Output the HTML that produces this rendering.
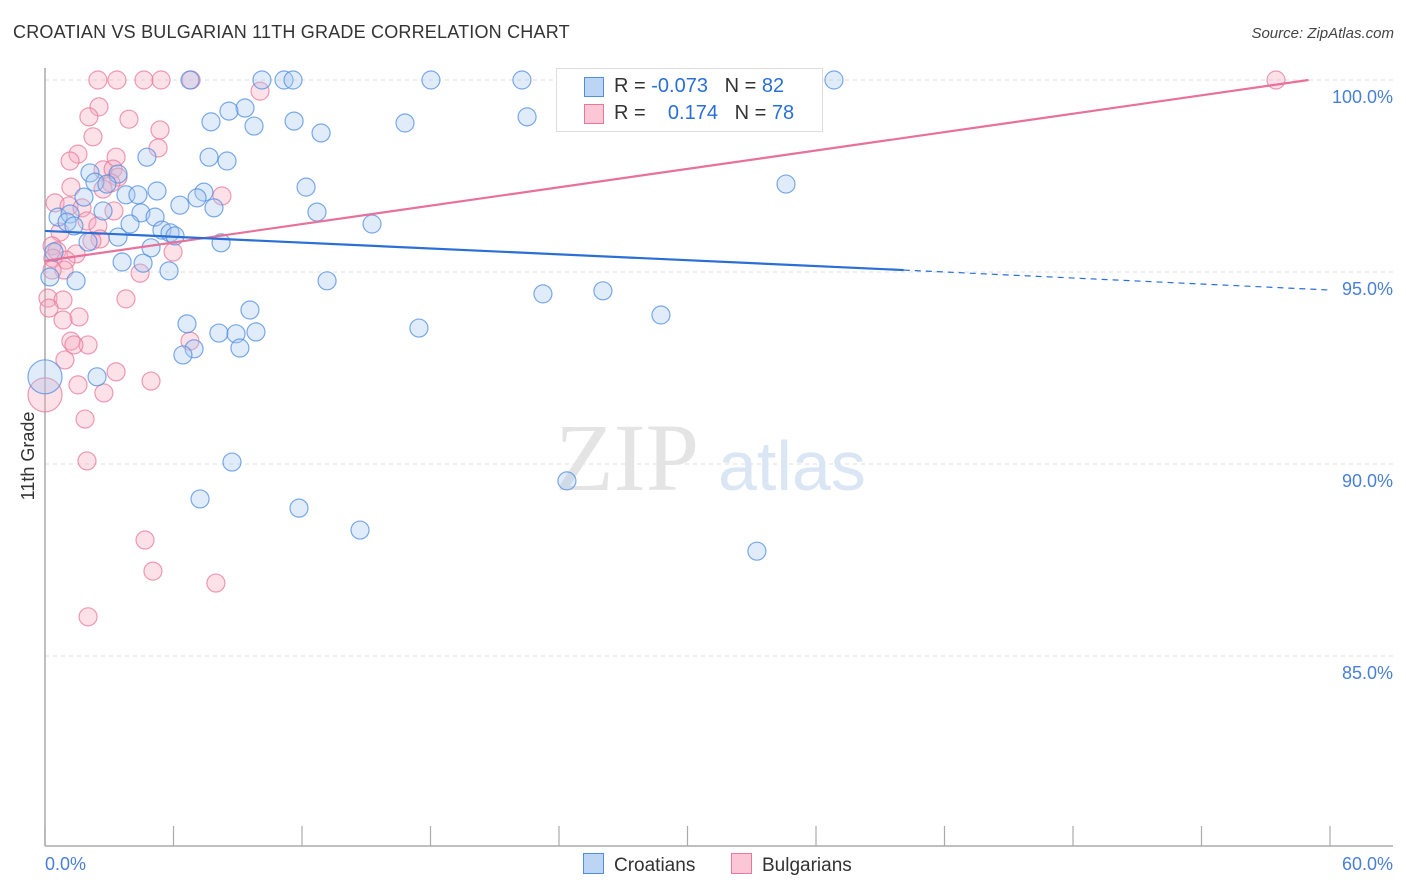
<!DOCTYPE html>
<html><head><meta charset="utf-8"><style>
body{margin:0;background:#fff;font-family:"Liberation Sans",sans-serif;}
#wrap{position:relative;width:1406px;height:892px;overflow:hidden;}
.t{position:absolute;white-space:nowrap;}
</style></head><body>
<div id="wrap">
<div class="t" style="left:13px;top:22px;font-size:18px;color:#333;letter-spacing:0.2px;">CROATIAN VS BULGARIAN 11TH GRADE CORRELATION CHART</div>
<div class="t" style="right:12px;top:25px;font-size:15px;color:#444;font-style:italic;">Source: ZipAtlas.com</div>
<svg id="svg" width="1406" height="892" style="position:absolute;left:0;top:0"></svg>
</div>
<script>
const xTicks=[0,6,12,18,24,30,36,42,48,54,60];
const yTicks=[85,90,95,100];
const yTickLabels=["85.0%","90.0%","95.0%","100.0%"];
const croatX=[6.77,10.13,11.16,11.58,18.02,22.27,36.84,9.34,8.59,7.75,9.76,11.63,12.89,16.81,22.51,4.76,7.66,8.50,2.10,3.41,2.33,2.89,12.19,34.60,5.23,7.42,3.78,4.34,1.82,7.10,6.30,7.89,2.71,12.70,4.48,5.14,0.61,1.17,1.03,1.35,3.97,15.27,5.46,5.84,6.07,3.41,2.01,8.22,4.95,0.42,3.60,4.58,5.79,1.45,13.17,0.23,23.25,26.05,9.57,28.76,6.63,17.46,8.12,8.92,9.85,6.96,6.44,9.10,2.43,0,8.73,7.24,11.86,14.71,24.37,33.24];
const croatY=[100,100,100,100,100,100,100,99.27,99.19,98.91,98.80,98.93,98.62,98.88,99.04,97.99,97.99,97.89,97.58,97.55,97.34,97.29,97.21,97.29,97.11,97.08,97.01,97.01,96.95,96.93,96.74,96.67,96.59,96.56,96.54,96.43,96.43,96.51,96.30,96.20,96.25,96.25,96.09,96.02,95.94,95.91,95.78,95.76,95.63,95.52,95.26,95.23,95.03,94.77,94.77,94.87,94.43,94.51,94.01,93.88,93.65,93.54,93.41,93.39,93.44,93.00,92.84,93.02,92.27,92.27,90.05,89.09,88.85,88.28,89.56,87.73];
const bulgX=[2.47,3.36,4.62,5.42,6.82,57.48,10.04,2.52,2.05,3.92,2.24,5.37,5.28,1.54,1.17,3.32,2.71,3.18,3.41,3.08,1.21,2.71,8.26,0.47,1.12,1.73,3.22,1.96,2.47,0.70,2.57,2.19,0.33,0.56,0.37,1.45,0.98,0.89,0.33,5.98,4.44,0.14,0.84,3.78,0.19,1.59,0.84,1.21,2.01,6.77,1.35,0.93,3.32,4.95,1.54,2.75,0,1.87,1.96,4.67,5.04,7.98,2.01];
const bulgY=[100,100,100,100,100,100,99.71,99.30,99.04,98.98,98.52,98.70,98.23,98.07,97.89,97.99,97.66,97.68,97.47,97.32,97.21,97.16,96.98,96.80,96.72,96.67,96.59,96.33,96.20,96.04,95.86,95.81,95.68,95.55,95.36,95.47,95.31,95.05,95.05,95.52,94.97,94.32,94.27,94.30,94.06,93.83,93.75,93.20,93.10,93.20,93.10,92.71,92.40,92.16,92.06,91.85,91.80,91.17,90.08,88.02,87.21,86.90,86.02];
const croatTrend=[[0,96.07],[40.1,95.05]];
const croatTrendDash=[[40.1,95.05],[60,94.53]];
const bulgTrend=[[0,95.29],[59,100]];
const bigPoints={croat:69,bulg:56};

const NS="http://www.w3.org/2000/svg";
const svg=document.getElementById('svg');
const X=v=>45+v/60*1285;
const Y=v=>80+(100-v)*38.4;
function mk(t,a,p){const e=document.createElementNS(NS,t);for(const k in a)e.setAttribute(k,a[k]);(p||svg).appendChild(e);return e;}
// gridlines
yTicks.forEach((v,i)=>{
 const g=mk('line',{x1:45,x2:1393,y1:Y(v),y2:Y(v),stroke:'#ddd','stroke-dasharray':'4,4'});
 
 
 const t=mk('text',{x:1393,y:Y(v)+23,'text-anchor':'end','font-size':18,fill:'#4a7fd6','font-family':'Liberation Sans, sans-serif'});
 t.textContent=yTickLabels[i];
 
 
});
// axes
const ya=mk('line',{x1:45,x2:45,y1:68,y2:846,stroke:'#aaa','stroke-width':1.5});


const xa=mk('line',{x1:45,x2:1393,y1:846,y2:846,stroke:'#aaa','stroke-width':1.5});


xTicks.forEach(v=>{
 const l=mk('line',{x1:X(v),x2:X(v),y1:826,y2:846,stroke:'#aaa','stroke-width':1.2});
 
 
});
[[0,'0.0%','start',45],[60,'60.0%','end',1393]].forEach(a=>{
 const t=mk('text',{x:a[3],y:870,'text-anchor':a[2],'font-size':18,fill:'#4a7fd6','font-family':'Liberation Sans, sans-serif'});
 t.textContent=a[1];
 
 
});
const yt=mk('text',{x:34,y:456,transform:'rotate(-90 34 456)','text-anchor':'middle','font-size':18,fill:'#333','font-family':'Liberation Sans, sans-serif'});
yt.textContent='11th Grade';


// watermark
const wm=mk('text',{x:555,y:490,'font-size':96,fill:'#e4e4e4','font-family':'Liberation Serif, serif'});
wm.textContent='ZIP';


const wm2=mk('text',{x:718,y:490,'font-size':70,fill:'#dbe6f5','font-family':'Liberation Sans, sans-serif'});
wm2.textContent='atlas';


// points
function pts(xs,ys,fill,stroke,name,big){
 xs.forEach((x,i)=>{
  const c=mk('circle',{cx:X(x),cy:Y(ys[i]),r:i===big?17:9,fill:fill,'fill-opacity':0.35,stroke:stroke,'stroke-opacity':0.75,'stroke-width':1.2});
  
  
 });
}
pts(bulgX,bulgY,'#f7a8c0','#e8799c','bulgarian-point',bigPoints.bulg);
pts(croatX,croatY,'#a9c8f0','#4f8ee0','croatian-point',bigPoints.croat);
// trends
function ln(p,col,w,dash,name){
 const l=mk('line',{x1:X(p[0][0]),y1:Y(p[0][1]),x2:X(p[1][0]),y2:Y(p[1][1]),stroke:col,'stroke-width':w});
 if(dash)l.setAttribute('stroke-dasharray',dash);
 
 
}
ln(bulgTrend,'#e8709a',2.2,null,'bulgarian-trendline');
ln(croatTrend,'#2a6fd6',2.2,null,'croatian-trendline');
ln(croatTrendDash,'#2a6fd6',1.2,'6,5','croatian-trendline-extension');
</script>
<div style="position:absolute;left:556px;top:68px;width:265px;height:62px;border:1px solid #ddd;background:#fff;font-size:20px;">
 <div style="position:absolute;left:27px;top:8px;width:18px;height:18px;background:#bcd5f5;border:1px solid #4f8ee0;"></div>
 <div class="t" style="left:57px;top:6px;color:#333;">R = <span style="color:#2a6fd6">-0.073</span>&nbsp;&nbsp;&nbsp;N = <span style="color:#2a6fd6">82</span></div>
 <div style="position:absolute;left:27px;top:35px;width:18px;height:18px;background:#fbc6d6;border:1px solid #e8799c;"></div>
 <div class="t" style="left:57px;top:33px;color:#333;">R = &nbsp;&nbsp;&nbsp;<span style="color:#2a6fd6">0.174</span>&nbsp;&nbsp;&nbsp;N = <span style="color:#2a6fd6">78</span></div>
</div>
<div style="position:absolute;left:583px;top:853px;font-size:19px;color:#333;">
 <span style="position:absolute;left:0;top:0;white-space:nowrap;"><span style="display:inline-block;width:19px;height:19px;background:#bcd5f5;border:1px solid #4f8ee0;vertical-align:-3px;margin-right:10px;"></span>Croatians</span>
 <span style="position:absolute;left:148px;top:0;white-space:nowrap;"><span style="display:inline-block;width:19px;height:19px;background:#fbc6d6;border:1px solid #e8799c;vertical-align:-3px;margin-right:10px;"></span>Bulgarians</span>
</div>
</body></html>
